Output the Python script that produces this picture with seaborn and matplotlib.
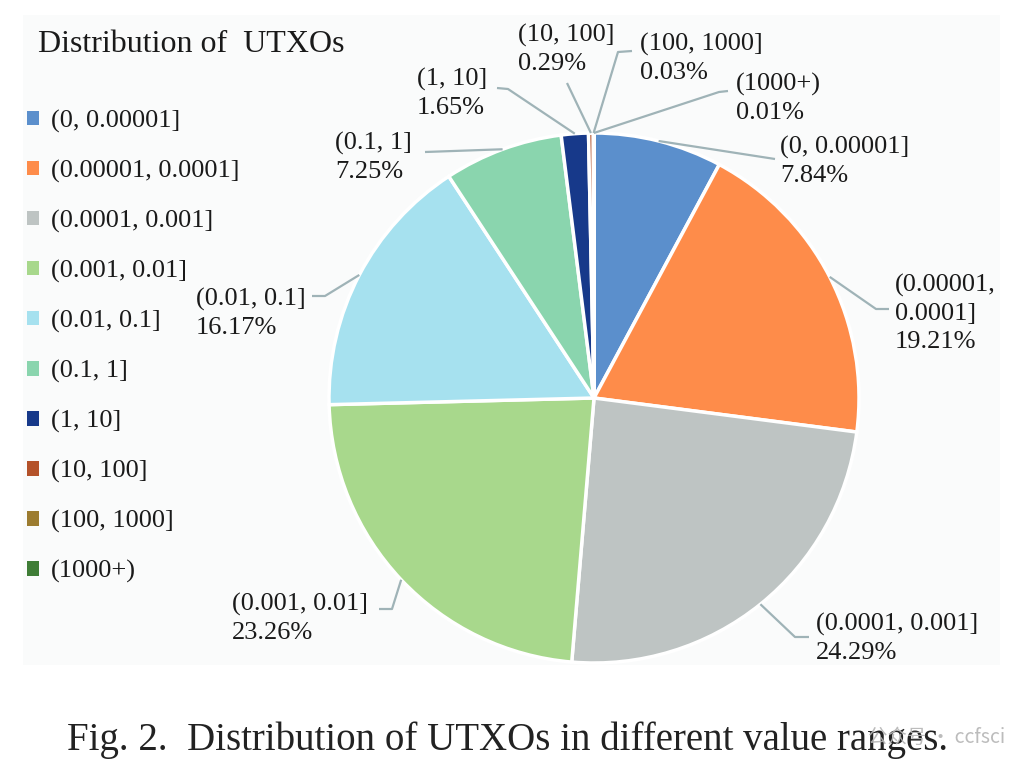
import matplotlib
matplotlib.use("Agg")
import matplotlib.pyplot as plt
import seaborn as sns
import numpy as np
from matplotlib.patches import Rectangle

# ---- data ----
categories = ["(0, 0.00001]", "(0.00001, 0.0001]", "(0.0001, 0.001]", "(0.001, 0.01]",
              "(0.01, 0.1]", "(0.1, 1]", "(1, 10]", "(10, 100]", "(100, 1000]", "(1000+)"]
shares = [7.84, 19.21, 24.29, 23.26, 16.17, 7.25, 1.65, 0.29, 0.03, 0.01]
label_names = ["(0, 0.00001]", "(0.00001,\n0.0001]", "(0.0001, 0.001]", "(0.001, 0.01]",
               "(0.01, 0.1]", "(0.1, 1]", "(1, 10]", "(10, 100]", "(100, 1000]", "(1000+)"]
colors = ["#5B8FCC", "#FE8C4A", "#BEC4C3", "#A8D88C", "#A6E1EF",
          "#8AD5AE", "#17398A", "#B4522A", "#9C7C30", "#3F7D36"]

W, H = 1016, 773

# ---- layout (pixel coordinates, y down) ----
pie_center_px = (594, 398)
pie_radius = 265
label_pos = [(780, 136), (895, 274), (816, 613), (232, 593), (196, 288),
             (335, 132), (417, 68), (518, 24), (640, 33), (736, 73)]
leader_pts = [[(775, 159)],
              [(876, 309), (889, 309)],
              [(795, 637), (809, 637)],
              [(392, 609), (379, 609)],
              [(325, 296), (312, 296)],
              [(425, 152)],
              [(508, 89), (497, 88)],
              [(567, 83)],
              [(618, 52), (632, 51)],
              [(719, 92), (728, 91)]]

sns.set_theme(style="white")
plt.rcParams["font.family"] = ["Liberation Serif", "DejaVu Serif"]

fig = plt.figure(figsize=(W / 100, H / 100), dpi=100)
ax = fig.add_axes([0, 0, 1, 1])

def P(x, y):
    return (x, H - y)

palette = sns.color_palette(colors)
wedges, _ = ax.pie(shares, colors=palette, startangle=90, counterclock=False,
                   center=P(*pie_center_px), radius=pie_radius,
                   wedgeprops=dict(edgecolor="white", linewidth=2.5), frame=True)
ax.set_xlim(0, W)
ax.set_ylim(0, H)
ax.set_aspect("equal")
ax.axis("off")

# faint panel background (behind everything)
ax.add_patch(Rectangle(P(23, 665), 1000 - 23, 665 - 15, facecolor="#fafbfb",
                       edgecolor="none", zorder=-5))

cx, cy = P(*pie_center_px)
line_color = "#9FB3B7"
for i, w in enumerate(wedges):
    mid = np.deg2rad((w.theta1 + w.theta2) / 2)
    ax_ = cx + pie_radius * np.cos(mid)
    ay_ = cy + pie_radius * np.sin(mid)
    pts = [(ax_, ay_)] + [P(*p) for p in leader_pts[i]]
    xs, ys = zip(*pts)
    ax.plot(xs, ys, color=line_color, lw=1.6, solid_capstyle="butt", zorder=3)
    lx, ly = P(*label_pos[i])
    ax.text(lx, ly, f"{label_names[i]}\n{shares[i]:.2f}%", ha="left", va="top",
            fontsize=19, linespacing=1.36, color="#1a1a1a", zorder=4)

# title
ax.text(*P(38, 52), "Distribution of  UTXOs", fontsize=23, ha="left", va="baseline",
        color="#1a1a1a", zorder=4)

# legend
handles = [Rectangle((0, 0), 1, 1, facecolor=c, edgecolor="none") for c in colors]
fig.legend(handles, categories, loc="upper left", bbox_to_anchor=(27 / W, 1 - 110 / H),
           frameon=False, fontsize=19, handlelength=0.46, handleheight=0.46,
           handletextpad=0.45, labelspacing=1.02, borderpad=0, borderaxespad=0,
           labelcolor="#1a1a1a")

# caption
fig.text(508 / W, 1 - 740 / H, "Fig. 2.  Distribution of UTXOs in different value ranges.",
         ha="center", va="center", fontsize=28, color="#222222")

# watermark
fig.text(868 / W, 1 - 737 / H, "公众号 · ccfsci", ha="left", va="center", fontsize=14,
         color="#b5b5b5", alpha=0.9, family=["Noto Sans CJK SC", "DejaVu Sans"])

fig.savefig("out.png", dpi=100)
